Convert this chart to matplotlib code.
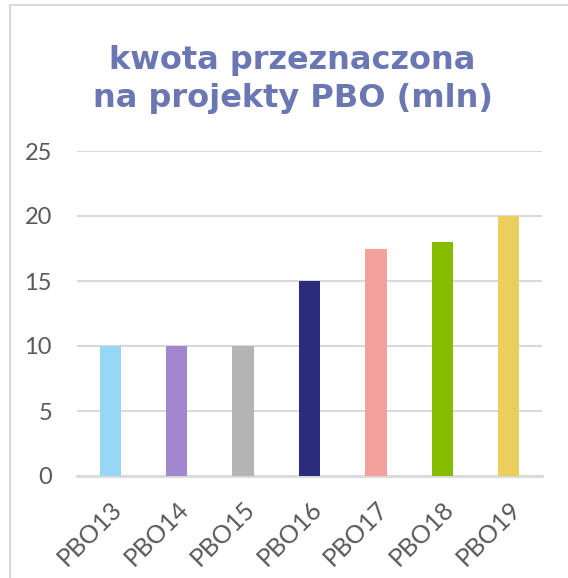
import matplotlib
matplotlib.use("Agg")
import matplotlib.pyplot as plt
from matplotlib.patches import Rectangle

# data
categories = ["PBO13", "PBO14", "PBO15", "PBO16", "PBO17", "PBO18", "PBO19"]
amounts = [10, 10, 10, 15, 17.5, 18, 20]
bar_colors = ["#97D6F5", "#A386D0", "#B4B4B4", "#2B2C7E", "#F2A19C", "#86BC00", "#EBCF5C"]
y_ticks = [0, 5, 10, 15, 20, 25]

title = "kwota przeznaczona\nna projekty PBO (mln)"
title_color = "#6B77B3"
text_color = "#595959"
grid_color = "#D9D9D9"

plt.rcParams["font.family"] = ["Lato", "DejaVu Sans"]

fig = plt.figure(figsize=(5.68, 5.78), dpi=100)

# outer chart frame (cut off at right and bottom, as in the source)
fig.patches.append(Rectangle((10 / 568, -0.1), 1.2, 0.1 + 573 / 578,
                             transform=fig.transFigure, fill=False,
                             edgecolor=grid_color, linewidth=1.5))

ax = fig.add_axes([77 / 568, 102 / 578, 465 / 568, 325 / 578])
x = range(len(categories))
ax.bar(x, amounts, width=0.32, color=bar_colors, zorder=3)

ax.set_xlim(-0.5, len(categories) - 0.5)
ax.set_ylim(0, 25)
ax.set_yticks(y_ticks)
ax.set_yticklabels([str(t) for t in y_ticks], fontsize=17, color=text_color)
ax.set_xticks(list(x))
ax.set_xticklabels(categories, rotation=45, ha="right", rotation_mode="anchor",
                   fontsize=18, color=text_color)
ax.tick_params(axis="both", length=0)
ax.tick_params(axis="y", pad=18)
ax.tick_params(axis="x", pad=15)

ax.grid(axis="y", color=grid_color, linewidth=1.5, zorder=0)
for side in ["top", "right", "left"]:
    ax.spines[side].set_visible(False)
ax.spines["bottom"].set_color(grid_color)
ax.spines["bottom"].set_linewidth(2)

fig.text(0.515, 1 - 45 / 578, title, ha="center", va="top", fontsize=23,
         fontweight="bold", color=title_color, linespacing=1.3,
         family="DejaVu Sans")

fig.savefig("out.png", dpi=100)
